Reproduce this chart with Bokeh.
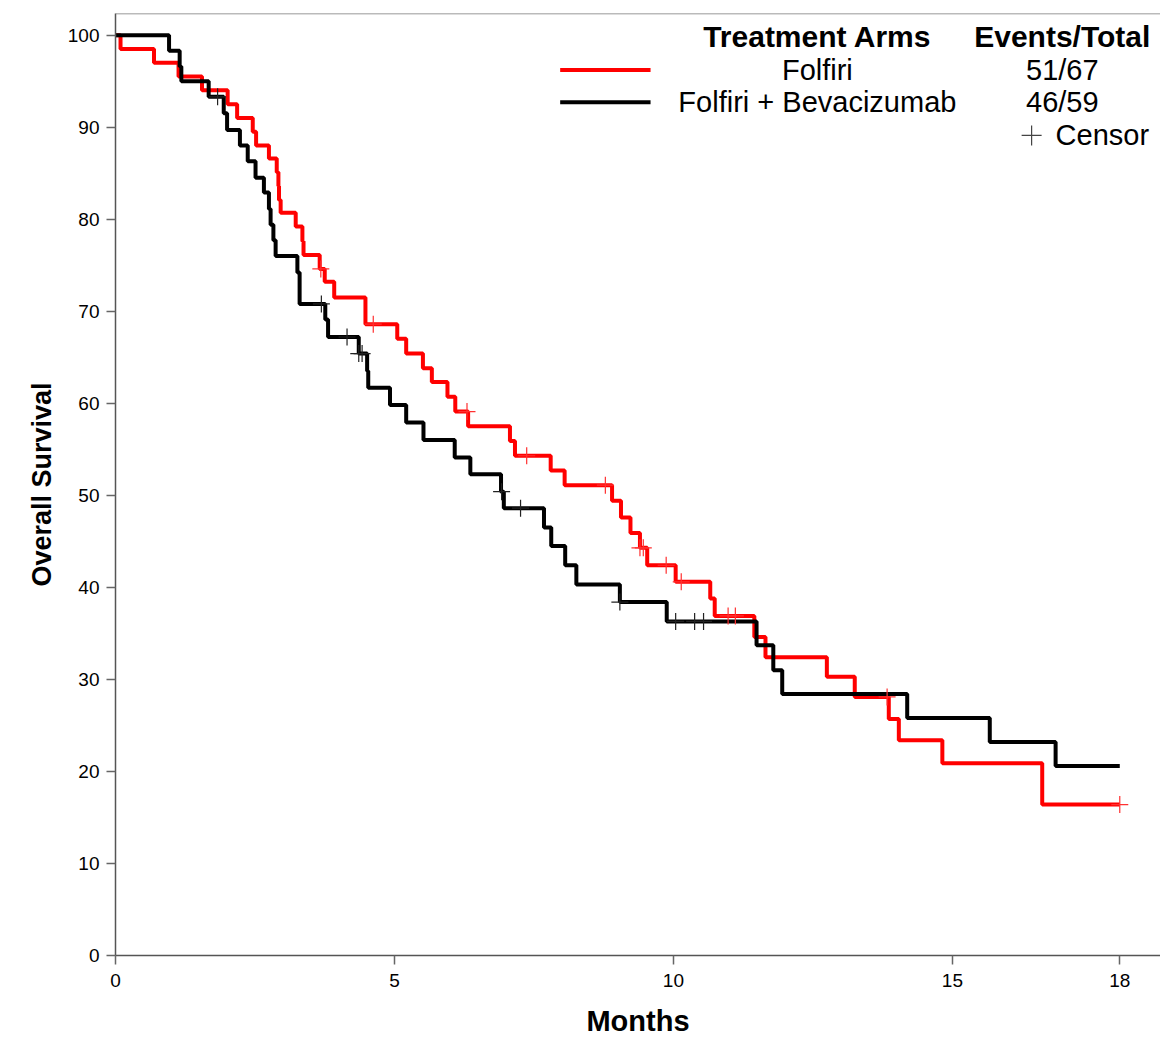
from bokeh.plotting import figure
from bokeh.models import Range1d, FixedTicker, Label, Span
from bokeh.embed import file_html
from bokeh.resources import INLINE

# ---- data ----
# Folfiri arm: step times (months) and survival (%) after each step
t_folfiri = [0, 0.09, 0.69, 1.13, 1.55, 2.01, 2.18, 2.46, 2.52, 2.75,
             2.89, 2.92, 2.93, 2.96, 3.23, 3.35, 3.37, 3.66, 3.75, 3.92,
             4.48, 5.05, 5.21, 5.51, 5.67, 5.95, 6.09, 6.32, 7.07, 7.16,
             7.80, 8.05, 8.90, 9.06, 9.23, 9.40, 9.53, 10.04, 10.66, 10.74,
             11.45, 11.65, 12.75, 13.25, 13.86, 14.04, 14.82, 16.61, 18.0]
s_folfiri = [100, 98.5, 97.0, 95.5, 94.0, 92.5, 91.0, 89.5, 88.0, 86.6,
             85.1, 83.6, 82.1, 80.7, 79.2, 77.6, 76.1, 74.6, 73.2, 71.5,
             68.6, 67.0, 65.4, 63.8, 62.3, 60.7, 59.1, 57.5, 55.9, 54.3,
             52.7, 51.1, 49.4, 47.6, 45.9, 44.3, 42.4, 40.6, 38.8, 36.9,
             34.6, 32.4, 30.3, 28.1, 25.7, 23.4, 20.9, 16.4, 16.4]
cens_t_folfiri = [3.68, 4.62, 6.30, 7.37, 8.78, 9.40, 9.46, 9.87, 10.14, 10.98, 11.11, 13.83, 18.0]
cens_s_folfiri = [74.6, 68.6, 59.1, 54.3, 51.1, 44.3, 44.3, 42.4, 40.6, 36.9, 36.9, 28.1, 16.4]

# Folfiri + Bevacizumab arm
t_bev = [0, 0.96, 1.15, 1.18, 1.67, 1.94, 2.00, 2.23, 2.37, 2.51,
         2.66, 2.75, 2.78, 2.83, 2.87, 3.26, 3.30, 3.76, 3.81, 4.36,
         4.51, 4.53, 4.92, 5.21, 5.52, 6.08, 6.36, 6.91, 6.96, 7.68,
         7.81, 8.06, 8.26, 9.04, 9.88, 11.49, 11.79, 11.95, 14.19, 15.67,
         16.85, 18.0]
s_bev = [100, 98.3, 96.6, 95.0, 93.3, 91.5, 89.7, 88.0, 86.3, 84.5,
         82.9, 81.1, 79.4, 77.7, 76.0, 74.2, 70.8, 69.1, 67.2, 65.4,
         63.5, 61.7, 59.8, 57.9, 56.0, 54.1, 52.3, 50.4, 48.6, 46.5,
         44.5, 42.4, 40.3, 38.4, 36.3, 33.7, 31.0, 28.4, 25.8, 23.2,
         20.6, 20.6]
cens_t_bev = [1.83, 3.69, 4.15, 4.36, 4.42, 6.92, 7.26, 9.04, 10.04, 10.38, 10.54]
cens_s_bev = [93.3, 70.8, 67.2, 65.4, 65.4, 50.4, 48.6, 38.4, 36.3, 36.3, 36.3]

arm_names = ["Folfiri", "Folfiri + Bevacizumab"]
events_total = ["51/67", "46/59"]
x_ticks = [0, 5, 10, 15, 18]
y_ticks = [0, 10, 20, 30, 40, 50, 60, 70, 80, 90, 100]

FONT = "Liberation Sans"
RED = "#ff0000"
BLACK = "#000000"
Y_TOP = 102.35

p = figure(width=1160, height=1039, output_backend="svg", toolbar_location=None,
           x_range=Range1d(0, 18.73), y_range=Range1d(0, Y_TOP),
           min_border_left=115, min_border_right=0, min_border_top=13, min_border_bottom=81)
p.grid.visible = False
p.outline_line_color = None
p.background_fill_color = "white"
p.border_fill_color = "white"
p.add_layout(Span(location=Y_TOP, dimension="width", line_color="#777777", line_width=1.5))

for ax in (p.xaxis[0], p.yaxis[0]):
    ax.axis_line_color = "#555555"
    ax.axis_line_width = 1.5
    ax.major_tick_line_color = "#666666"
    ax.major_tick_line_width = 1.5
    ax.major_tick_out = 9
    ax.major_tick_in = 0
    ax.minor_tick_line_color = None
    ax.major_label_text_font = FONT
    ax.major_label_text_font_size = "19px"
    ax.major_label_text_color = "black"
    ax.axis_label_text_font = FONT
    ax.axis_label_text_font_style = "bold"
    ax.axis_label_text_color = "black"

p.xaxis.ticker = FixedTicker(ticks=x_ticks)
p.yaxis.ticker = FixedTicker(ticks=y_ticks)
p.xaxis.axis_label = "Months"
p.yaxis.axis_label = "Overall Survival"
p.xaxis.axis_label_text_font_size = "29px"
p.yaxis.axis_label_text_font_size = "27px"
p.xaxis.major_label_standoff = 9
p.yaxis.major_label_standoff = 7
p.xaxis.axis_label_standoff = 15
p.yaxis.axis_label_standoff = 8

# curves
p.step(t_folfiri, s_folfiri, mode="after", line_color=RED, line_width=4)
p.step(t_bev, s_bev, mode="after", line_color=BLACK, line_width=4)
p.scatter(cens_t_folfiri, cens_s_folfiri, marker="cross", size=17,
          line_color="#ff3030", line_width=1.2)
p.scatter(cens_t_bev, cens_s_bev, marker="cross", size=17,
          line_color="#222222", line_width=1.2)

# legend (custom table-style)
def lab(x, y, text, size, bold=False, align="center"):
    p.add_layout(Label(x=x, y=y, text=text, text_font=FONT, text_font_size=size,
                       text_font_style="bold" if bold else "normal",
                       text_align=align, text_baseline="middle", text_color="black"))

col1, col2 = 12.58, 16.97
row0, row1, row2, row3 = 99.8, 96.2, 92.7, 89.1
lab(col1, row0, "Treatment Arms", "30px", bold=True)
lab(col2, row0, "Events/Total", "30px", bold=True)
lab(col1, row1, arm_names[0], "29px")
lab(col2, row1, events_total[0], "29px")
lab(col1, row2, arm_names[1], "29px")
lab(col2, row2, events_total[1], "29px")
lab(16.85, row3, "Censor", "29px", align="left")
p.segment(x0=[7.97], y0=[row1], x1=[9.59], y1=[row1], line_color=RED, line_width=4)
p.segment(x0=[7.97], y0=[row2], x1=[9.59], y1=[row2], line_color=BLACK, line_width=4)
p.scatter([16.42], [row3], marker="cross", size=20, line_color="#444444", line_width=1.2)

open("out.html", "w").write(file_html(p, INLINE))
